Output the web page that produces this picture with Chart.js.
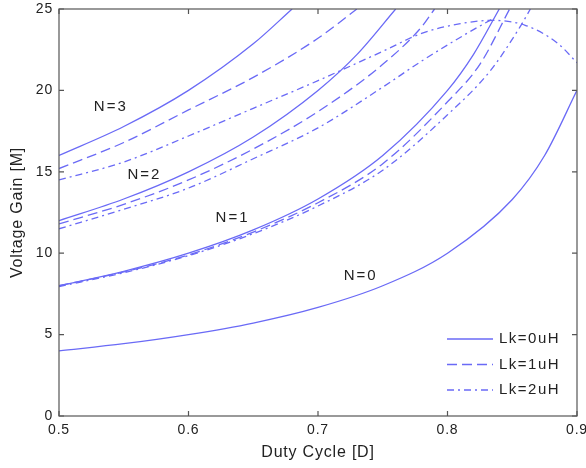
<!DOCTYPE html>
<html>
<head>
<meta charset="utf-8">
<script src="https://cdn.jsdelivr.net/npm/chart.js@4"></script>
<style>
  html, body { margin: 0; padding: 0; background: #fff; }
  #chart { display: block; }
</style>
</head>
<body>
<canvas id="chart" width="586" height="468"></canvas>
<script>
// values (duty cycle D -> voltage gain M)
const dutyN0 = [0.5, 0.55, 0.6, 0.65, 0.7, 0.75, 0.8, 0.85, 0.875, 0.9];
const gainN0 = [4, 4.44, 5, 5.71, 6.67, 8, 10, 13.3, 16, 20];

const dutyN1Lk0 = [0.5, 0.55, 0.6, 0.65, 0.7, 0.75, 0.8, 0.82, 0.84];
const gainN1Lk0 = [8, 8.89, 10, 11.43, 13.33, 16, 20, 22.2, 25];
const dutyN1Lk1 = [0.5, 0.55, 0.6, 0.65, 0.7, 0.75, 0.8, 0.825, 0.848];
const gainN1Lk1 = [8, 8.85, 9.9, 11.3, 13.1, 15.5, 19.3, 21.6, 25];
const dutyN1Lk2 = [0.5, 0.55, 0.6, 0.65, 0.7, 0.75, 0.8, 0.833, 0.856, 0.864];
const gainN1Lk2 = [7.95, 8.8, 9.85, 11.2, 12.9, 15.1, 18.5, 21.2, 23.9, 25];

const dutyN2Lk0 = [0.5, 0.55, 0.6, 0.65, 0.7, 0.73, 0.76];
const gainN2Lk0 = [12, 13.33, 15, 17.14, 20, 22.2, 25];
const dutyN2Lk1 = [0.5, 0.55, 0.6, 0.65, 0.7, 0.75, 0.78, 0.79];
const gainN2Lk1 = [11.8, 13.0, 14.5, 16.4, 18.7, 21.6, 23.9, 25];
const dutyN2Lk2 = [0.5, 0.55, 0.6, 0.65, 0.7, 0.75, 0.78, 0.815, 0.835];
const gainN2Lk2 = [11.5, 12.7, 14.0, 15.8, 17.7, 20.2, 21.8, 23.5, 24.4];

const dutyN3Lk0 = [0.5, 0.55, 0.6, 0.65, 0.68];
const gainN3Lk0 = [16, 17.78, 20, 22.86, 25];
const dutyN3Lk1 = [0.5, 0.55, 0.6, 0.65, 0.7, 0.73];
const gainN3Lk1 = [15.2, 16.8, 18.8, 20.8, 23.2, 25];
const dutyN3Lk2 = [0.5, 0.55, 0.6, 0.65, 0.7, 0.75, 0.78, 0.81, 0.835, 0.86, 0.885, 0.9];
const gainN3Lk2 = [14.5, 15.6, 17.2, 18.9, 20.6, 22.4, 23.5, 24.1, 24.3, 24.0, 22.9, 21.7];

const legendLabels = ['Lk=0uH', 'Lk=1uH', 'Lk=2uH'];
const curveLabels = ['N=3', 'N=2', 'N=1', 'N=0'];
const xTicks = [0.5, 0.6, 0.7, 0.8, 0.9];
const yTicks = [0, 5, 10, 15, 20, 25];

const lineColor = '#6a6af6';
const textColor = '#222';
const fontFamily = '"Liberation Sans", Arial, sans-serif';
const dashes = [[], [10, 5], [7, 4, 2, 4]];

function pts(xs, ys) {
    return xs.map((x, i) => ({ x: x, y: ys[i] }));
}

function curve(xs, ys, lk) {
    return {
        label: legendLabels[lk],
        data: pts(xs, ys),
        borderColor: lineColor,
        borderWidth: 1.3,
        borderDash: dashes[lk],
        pointRadius: 0,
        fill: false,
        cubicInterpolationMode: 'monotone'
    };
}

const datasets = [
    curve(dutyN0, gainN0, 0),
    curve(dutyN1Lk0, gainN1Lk0, 0),
    curve(dutyN1Lk1, gainN1Lk1, 1),
    curve(dutyN1Lk2, gainN1Lk2, 2),
    curve(dutyN2Lk0, gainN2Lk0, 0),
    curve(dutyN2Lk1, gainN2Lk1, 1),
    curve(dutyN2Lk2, gainN2Lk2, 2),
    curve(dutyN3Lk0, gainN3Lk0, 0),
    curve(dutyN3Lk1, gainN3Lk1, 1),
    curve(dutyN3Lk2, gainN3Lk2, 2)
];

// slightly spaced text, like the matlab export
const spacing = {
    id: 'spacing',
    beforeDraw(chart) { chart.ctx.letterSpacing = '0.8px'; }
};

// box, inward ticks, N= labels and the legend, matlab style
const matlabFrame = {
    id: 'matlabFrame',
    afterDraw(chart) {
        const ctx = chart.ctx;
        const a = chart.chartArea;
        const xs = chart.scales.x;
        const ys = chart.scales.y;
        ctx.save();
        ctx.strokeStyle = '#555';
        ctx.lineWidth = 1.2;
        ctx.strokeRect(a.left, a.top, a.right - a.left, a.bottom - a.top);
        ctx.beginPath();
        xTicks.forEach(v => {
            const px = xs.getPixelForValue(v);
            ctx.moveTo(px, a.bottom); ctx.lineTo(px, a.bottom - 5);
            ctx.moveTo(px, a.top); ctx.lineTo(px, a.top + 5);
        });
        yTicks.forEach(v => {
            const py = ys.getPixelForValue(v);
            ctx.moveTo(a.left, py); ctx.lineTo(a.left + 5, py);
            ctx.moveTo(a.right, py); ctx.lineTo(a.right - 5, py);
        });
        ctx.stroke();

        // curve labels
        const labelAt = [[0.540, 18.98], [0.566, 14.8], [0.634, 12.2], [0.733, 8.6]];
        ctx.fillStyle = textColor;
        ctx.font = '15px ' + fontFamily;
        ctx.letterSpacing = '2px';
        ctx.textAlign = 'center';
        ctx.textBaseline = 'middle';
        curveLabels.forEach((t, i) => {
            ctx.fillText(t, xs.getPixelForValue(labelAt[i][0]), ys.getPixelForValue(labelAt[i][1]));
        });

        // legend
        ctx.textAlign = 'left';
        ctx.font = '15px ' + fontFamily;
        ctx.letterSpacing = '1.5px';
        legendLabels.forEach((t, i) => {
            const y = a.bottom - 77 + i * 25.5;
            ctx.strokeStyle = lineColor;
            ctx.lineWidth = 1.3;
            ctx.setLineDash(dashes[i]);
            ctx.beginPath();
            ctx.moveTo(a.right - 130, y);
            ctx.lineTo(a.right - 84, y);
            ctx.stroke();
            ctx.fillText(t, a.right - 78, y);
        });
        ctx.restore();
    }
};

new Chart(document.getElementById('chart'), {
    type: 'line',
    data: { datasets: datasets },
    options: {
        responsive: false,
        animation: false,
        layout: { padding: { left: 0, right: 9, top: 9, bottom: 0 } },
        plugins: {
            legend: { display: false },
            tooltip: { enabled: false }
        },
        scales: {
            x: {
                type: 'linear',
                min: 0.5,
                max: 0.9,
                afterFit(s) { s.height = 52; s.paddingLeft = 0; s.paddingRight = 0; },
                afterBuildTicks(s) { s.ticks = xTicks.map(v => ({ value: v })); },
                grid: { display: false, drawTicks: false },
                border: { display: false },
                ticks: {
                    color: textColor,
                    padding: 6,
                    font: { family: fontFamily, size: 14 },
                    callback: v => v.toFixed(1)
                },
                title: {
                    display: true,
                    text: 'Duty Cycle [D]',
                    color: textColor,
                    font: { family: fontFamily, size: 16 },
                    padding: { top: 0, bottom: 6 }
                }
            },
            y: {
                type: 'linear',
                min: 0,
                max: 25,
                afterFit(s) { s.width = 59; s.paddingTop = 0; s.paddingBottom = 0; },
                afterBuildTicks(s) { s.ticks = yTicks.map(v => ({ value: v })); },
                grid: { display: false, drawTicks: false },
                border: { display: false },
                ticks: {
                    color: textColor,
                    padding: 6,
                    font: { family: fontFamily, size: 14 }
                },
                title: {
                    display: true,
                    text: 'Voltage Gain [M]',
                    color: textColor,
                    font: { family: fontFamily, size: 16 },
                    padding: { top: 8, bottom: 0 }
                }
            }
        }
    },
    plugins: [spacing, matlabFrame]
});
</script>
</body>
</html>
